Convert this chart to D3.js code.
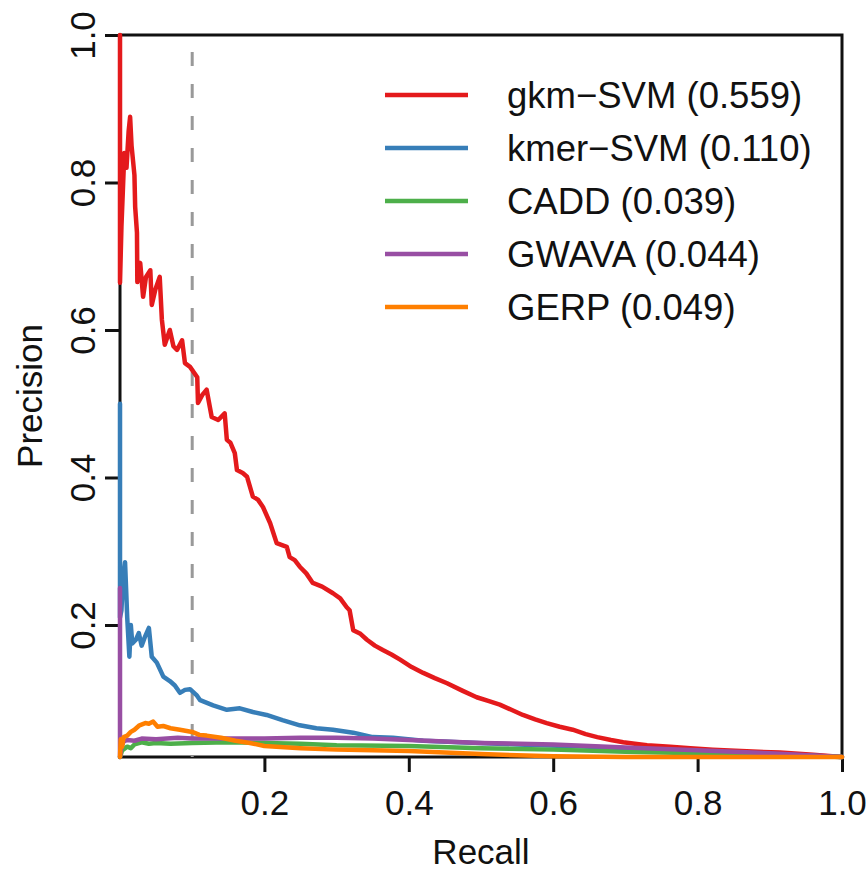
<!DOCTYPE html>
<html lang="en">
  <head>
    <script src="https://cdn.jsdelivr.net/npm/d3@7"></script>
    <meta charset="utf-8">
    <style>
    body { margin: 0; background: #fff; }
    text { font-family: "Liberation Sans", Arial, sans-serif; fill: #111; }
    .curve { fill: none; stroke-width: 4.5px; stroke-linejoin: round; stroke-linecap: round; }
    </style>
    <title>Precision-Recall</title>
    <script>
// Series names and AUPRC shown in legend
var seriesNames = ['gkm\u2212SVM', 'kmer\u2212SVM', 'CADD', 'GWAVA', 'GERP'];
var seriesAuc = ['0.559', '0.110', '0.039', '0.044', '0.049'];
var seriesColors = ['#e41a1c', '#377eb8', '#4daf4a', '#984ea3', '#ff7f00'];

var xTicks = [0.2, 0.4, 0.6, 0.8, 1.0];
var yTicks = [0.2, 0.4, 0.6, 0.8, 1.0];
var cutoffRecall = 0.1;

// gkm-SVM curve
var gkmRecall = [0, 0, 0.002, 0.004, 0.006, 0.009, 0.012, 0.014, 0.016, 0.018, 0.020, 0.021,
  0.0235, 0.024, 0.028, 0.032, 0.036, 0.042, 0.044, 0.049, 0.055, 0.058, 0.062, 0.069, 0.074,
  0.079, 0.086, 0.090, 0.097, 0.107, 0.108, 0.114, 0.120, 0.127, 0.136, 0.145, 0.148, 0.153,
  0.159, 0.162, 0.170, 0.176, 0.184, 0.191, 0.198, 0.208, 0.217, 0.231, 0.235, 0.242, 0.249,
  0.258, 0.267, 0.280, 0.295, 0.305, 0.314, 0.318, 0.323, 0.333, 0.342, 0.353, 0.364, 0.376,
  0.388, 0.404, 0.420, 0.436, 0.453, 0.474, 0.494, 0.510, 0.526, 0.542, 0.558, 0.575, 0.591,
  0.609, 0.627, 0.645, 0.661, 0.680, 0.697, 0.713, 0.730, 0.746, 0.762, 0.790, 0.821, 0.860,
  0.914, 0.960, 1.0];
var gkmPrecision = [1.0, 0.664, 0.74, 0.79, 0.84, 0.82, 0.87, 0.889, 0.85, 0.83, 0.81, 0.767,
  0.732, 0.665, 0.691, 0.645, 0.672, 0.681, 0.634, 0.655, 0.672, 0.614, 0.580, 0.600, 0.578,
  0.573, 0.586, 0.555, 0.550, 0.536, 0.501, 0.512, 0.519, 0.482, 0.478, 0.487, 0.451, 0.447,
  0.433, 0.410, 0.406, 0.401, 0.374, 0.370, 0.360, 0.338, 0.311, 0.306, 0.292, 0.288, 0.279,
  0.270, 0.257, 0.252, 0.243, 0.236, 0.224, 0.220, 0.193, 0.188, 0.180, 0.172, 0.166, 0.160,
  0.153, 0.143, 0.135, 0.128, 0.121, 0.111, 0.102, 0.097, 0.092, 0.085, 0.078, 0.072, 0.067,
  0.062, 0.058, 0.052, 0.048, 0.044, 0.041, 0.039, 0.037, 0.036, 0.035, 0.033, 0.031, 0.029,
  0.027, 0.024, 0.021];

// kmer-SVM curve
var kmerRecall = [0, 0, 0.002, 0.004, 0.007, 0.010, 0.013, 0.015, 0.017, 0.022, 0.026, 0.030,
  0.035, 0.040, 0.044, 0.051, 0.060, 0.069, 0.076, 0.083, 0.090, 0.097, 0.106, 0.111, 0.129,
  0.148, 0.166, 0.184, 0.203, 0.225, 0.249, 0.272, 0.295, 0.323, 0.350, 0.378, 0.420, 0.470,
  0.550, 0.650, 0.750, 0.850, 1.0];
var kmerPrecision = [0.50, 0.21, 0.22, 0.26, 0.285, 0.21, 0.157, 0.20, 0.175, 0.18, 0.189,
  0.172, 0.185, 0.196, 0.157, 0.149, 0.130, 0.124, 0.118, 0.108, 0.112, 0.113, 0.105, 0.098,
  0.091, 0.085, 0.087, 0.082, 0.078, 0.071, 0.064, 0.060, 0.058, 0.054, 0.048, 0.047, 0.043,
  0.041, 0.038, 0.035, 0.031, 0.027, 0.021];

// CADD curve
var caddRecall = [0, 0.003, 0.010, 0.015, 0.020, 0.030, 0.040, 0.050, 0.070, 0.100, 0.150,
  0.200, 0.250, 0.300, 0.400, 0.500, 0.600, 0.700, 0.800, 0.900, 1.0];
var caddPrecision = [0.021, 0.030, 0.035, 0.033, 0.038, 0.041, 0.039, 0.040, 0.039, 0.040,
  0.041, 0.040, 0.039, 0.037, 0.036, 0.033, 0.031, 0.028, 0.026, 0.024, 0.021];

// GWAVA curve
var gwavaRecall = [0, 0, 0.002, 0.005, 0.010, 0.020, 0.030, 0.050, 0.080, 0.100, 0.150, 0.200,
  0.250, 0.300, 0.350, 0.400, 0.450, 0.500, 0.600, 0.700, 0.800, 0.900, 1.0];
var gwavaPrecision = [0.25, 0.021, 0.035, 0.042, 0.044, 0.043, 0.046, 0.045, 0.047, 0.046,
  0.046, 0.046, 0.047, 0.047, 0.046, 0.044, 0.042, 0.040, 0.038, 0.034, 0.030, 0.026, 0.021];

// GERP curve
var gerpRecall = [0, 0.001, 0.003, 0.005, 0.010, 0.015, 0.020, 0.027, 0.035, 0.040, 0.046,
  0.052, 0.060, 0.070, 0.083, 0.100, 0.110, 0.120, 0.140, 0.160, 0.180, 0.200, 0.250, 0.300,
  0.350, 0.400, 0.500, 0.600, 0.700, 1.0];
var gerpPrecision = [0.021, 0.045, 0.035, 0.048, 0.050, 0.055, 0.058, 0.064, 0.067, 0.066,
  0.069, 0.062, 0.063, 0.060, 0.058, 0.055, 0.051, 0.050, 0.047, 0.043, 0.040, 0.036, 0.033,
  0.031, 0.030, 0.029, 0.025, 0.022, 0.021, 0.021];

var allRecall = [gkmRecall, kmerRecall, caddRecall, gwavaRecall, gerpRecall];
var allPrecision = [gkmPrecision, kmerPrecision, caddPrecision, gwavaPrecision, gerpPrecision];

d3.select(window).on('load', init);

function init() {
  var w = 868, h = 870;
  var left = 120, right = 842, top = 35, bottom = 757;

  var svg = d3.select('body').append('svg')
      .attr('width', w)
      .attr('height', h);

  var x = d3.scaleLinear().domain([0, 1]).range([left, right]);
  var y = d3.scaleLinear().domain([0.021, 1]).range([bottom, top]);

  // plot box
  svg.append('rect')
     .attr('x', left).attr('y', top)
     .attr('width', right - left).attr('height', bottom - top)
     .attr('fill', 'none').attr('stroke', '#111').attr('stroke-width', 3);

  // x axis
  var xAxis = svg.append('g')
     .attr('transform', 'translate(0,' + bottom + ')')
     .call(d3.axisBottom(x).tickValues(xTicks).tickSize(15).tickFormat(d3.format('.1f')));
  xAxis.select('.domain').remove();
  xAxis.selectAll('line').attr('stroke', '#111').attr('stroke-width', 3);
  xAxis.selectAll('text')
       .attr('y', 58).attr('dy', null)
       .style('font-size', '35px').attr('fill', '#111');

  // y axis, labels turned like R's default
  var yAxis = svg.append('g')
     .attr('transform', 'translate(' + left + ',0)')
     .call(d3.axisLeft(y).tickValues(yTicks).tickSize(15).tickFormat(d3.format('.1f')));
  yAxis.select('.domain').remove();
  yAxis.selectAll('line').attr('stroke', '#111').attr('stroke-width', 3);
  yAxis.selectAll('text')
       .attr('x', null).attr('dy', null)
       .attr('transform', 'translate(-25,0) rotate(-90)')
       .attr('text-anchor', 'middle')
       .style('font-size', '35px').attr('fill', '#111');

  svg.append('text')
     .attr('x', (left + right) / 2).attr('y', 864)
     .attr('text-anchor', 'middle').style('font-size', '35px')
     .text('Recall');

  svg.append('text')
     .attr('transform', 'translate(42,' + (top + bottom) / 2 + ') rotate(-90)')
     .attr('text-anchor', 'middle').style('font-size', '35px')
     .text('Precision');

  // dashed line at recall 0.1
  svg.append('line')
     .attr('x1', x(cutoffRecall)).attr('x2', x(cutoffRecall))
     .attr('y1', 52).attr('y2', bottom)
     .attr('stroke', '#999').attr('stroke-width', 3)
     .attr('stroke-dasharray', '14,18');

  var line = d3.line()
      .x(function(d) { return x(d[0]); })
      .y(function(d) { return y(d[1]); });

  svg.append('g').selectAll('path')
     .data(seriesNames)
     .enter().append('path')
     .attr('class', 'curve')
     .attr('stroke', function(d, i) { return seriesColors[i]; })
     .attr('d', function(d, i) {
       return line(d3.zip(allRecall[i], allPrecision[i]));
     });

  // legend
  var leg = svg.append('g').selectAll('g')
      .data(seriesNames)
      .enter().append('g')
      .attr('transform', function(d, i) { return 'translate(0,' + (95 + i * 53) + ')'; });
  leg.append('line')
     .attr('x1', 385).attr('x2', 468)
     .attr('stroke', function(d, i) { return seriesColors[i]; })
     .attr('stroke-width', 4.5);
  leg.append('text')
     .attr('x', 507).attr('y', 13)
     .style('font-size', '36.5px')
     .text(function(d, i) { return d + ' (' + seriesAuc[i] + ')'; });
}
    </script>
  </head>
  <body>
  </body>
</html>
